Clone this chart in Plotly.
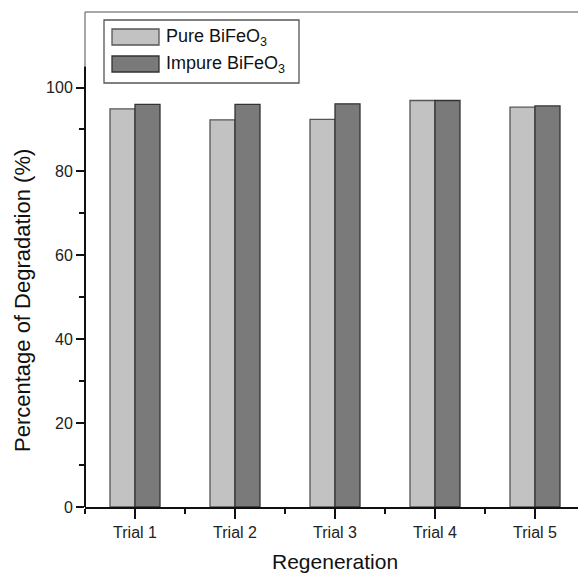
import plotly.graph_objects as go

# Regeneration trials and degradation efficiency (%)
trials = ["Trial 1", "Trial 2", "Trial 3", "Trial 4", "Trial 5"]
pure_bifeo3 = [94.9, 92.3, 92.4, 96.9, 95.3]
impure_bifeo3 = [96.0, 96.0, 96.1, 96.9, 95.6]
y_ticks = [0, 20, 40, 60, 80, 100]

x_pos = list(range(len(trials)))

FONT = "Liberation Sans, Arial, sans-serif"
PURE_FILL, PURE_LINE = "#c2c2c2", "#555555"
IMP_FILL, IMP_LINE = "#7a7a7a", "#333333"

W, H = 578, 574
ML, MR, MT, MB = 85, 0, 12, 67
PW, PH = W - ML - MR, H - MT - MB


def px(x):
    return (x - ML) / PW


def py(y):
    return (H - MB - y) / PH


fig = go.Figure()
fig.add_trace(go.Bar(
    x=x_pos, y=pure_bifeo3, name="Pure BiFeO3",
    marker=dict(color=PURE_FILL, line=dict(color=PURE_LINE, width=1.3)),
))
fig.add_trace(go.Bar(
    x=x_pos, y=impure_bifeo3, name="Impure BiFeO3",
    marker=dict(color=IMP_FILL, line=dict(color=IMP_LINE, width=1.3)),
))

shapes = [
    # frame top and upper left edge
    dict(type="line", xref="paper", yref="paper", x0=0, x1=1, y0=1, y1=1,
         line=dict(color="#8a8a8a", width=1.5)),
    dict(type="line", xref="paper", yref="y", x0=0, x1=0, y0=105, y1=118,
         line=dict(color="#8a8a8a", width=1.5)),
    # y axis line
    dict(type="line", xref="paper", yref="y", x0=0, x1=0, y0=0, y1=105,
         line=dict(color="#111111", width=2)),
    # legend box
    dict(type="rect", xref="paper", yref="paper", x0=px(104), x1=px(299),
         y0=py(83), y1=py(20), line=dict(color="#555555", width=1.3),
         fillcolor="white"),
    dict(type="rect", xref="paper", yref="paper", x0=px(112), x1=px(159),
         y0=py(45), y1=py(29), line=dict(color=PURE_LINE, width=1.3),
         fillcolor=PURE_FILL),
    dict(type="rect", xref="paper", yref="paper", x0=px(112), x1=px(159),
         y0=py(72), y1=py(56), line=dict(color=IMP_LINE, width=1.3),
         fillcolor=IMP_FILL),
]

annotations = [
    dict(xref="paper", yref="paper", x=px(164), y=py(37), xanchor="left",
         yanchor="middle", showarrow=False, text="Pure BiFeO<sub>3</sub>",
         font=dict(family=FONT, size=18, color="#111111")),
    dict(xref="paper", yref="paper", x=px(164), y=py(64), xanchor="left",
         yanchor="middle", showarrow=False, text="Impure BiFeO<sub>3</sub>",
         font=dict(family=FONT, size=18, color="#111111")),
    # axis titles
    dict(xref="paper", yref="paper", x=px(22), y=py(301), xanchor="center",
         yanchor="middle", showarrow=False, textangle=-90,
         text="Percentage of Degradation (%)",
         font=dict(family=FONT, size=22, color="#111111")),
    dict(xref="paper", yref="paper", x=px(335), y=py(561), xanchor="center",
         yanchor="middle", showarrow=False, text="Regeneration",
         font=dict(family=FONT, size=21, color="#111111")),
]

fig.update_layout(
    width=W, height=H,
    margin=dict(l=ML, r=MR, t=MT, b=MB),
    paper_bgcolor="white", plot_bgcolor="white",
    barmode="group", bargap=0.5, bargroupgap=0,
    showlegend=False,
    font=dict(family=FONT, color="#111111"),
    shapes=shapes, annotations=annotations,
    xaxis=dict(
        range=[-0.5, 4.43], tickmode="array", tickvals=x_pos, ticktext=trials,
        ticks="outside", ticklen=10, tickwidth=1.5, tickcolor="#111111",
        showline=True, linecolor="#111111", linewidth=2,
        showgrid=False, zeroline=False,
        tickfont=dict(family=FONT, size=16, color="#222222"),
        minor=dict(tickmode="array", tickvals=[-0.5, 0.5, 1.5, 2.5, 3.5, 4.5],
                   ticks="outside", ticklen=5, tickwidth=1.5, tickcolor="#111111",
                   showgrid=False),
    ),
    yaxis=dict(
        range=[0, 118], tickmode="array", tickvals=y_ticks,
        ticks="outside", ticklen=8, tickwidth=1.5, tickcolor="#111111",
        showline=False, showgrid=False, zeroline=False,
        tickfont=dict(family=FONT, size=16, color="#222222"),
        minor=dict(tickmode="array", tickvals=[10, 30, 50, 70, 90],
                   ticks="outside", ticklen=5, tickwidth=1.5, tickcolor="#111111",
                   showgrid=False),
    ),
)

fig.write_html("out.html")
